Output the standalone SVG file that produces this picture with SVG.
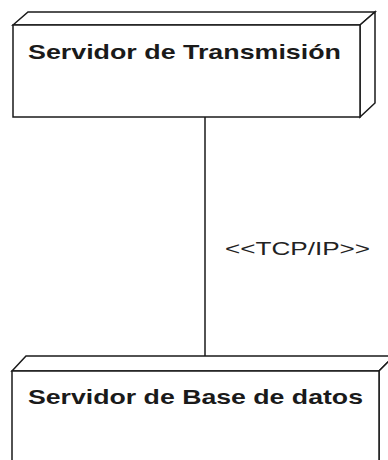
<svg xmlns="http://www.w3.org/2000/svg" width="388" height="460" viewBox="0 0 388 460">
<style>
.box{fill:#ffffff;stroke:#1a1a1a;stroke-width:1.5;stroke-linejoin:miter}
.title{font-family:"Liberation Sans",Arial,sans-serif;font-weight:bold;font-size:21px;fill:#1a1a1a}
.lbl{font-family:"Liberation Sans",Arial,sans-serif;font-size:18px;fill:#222222}
.conn{stroke:#1a1a1a;stroke-width:1.5;fill:none}
</style>
<rect width="388" height="460" fill="#ffffff"/>
<g id="connectors">
<line class="conn" x1="205" y1="117" x2="205" y2="357"/>
<text class="lbl" x="225" y="255" textLength="145" lengthAdjust="spacingAndGlyphs">&lt;&lt;TCP/IP&gt;&gt;</text>
</g>
<g id="node-transmision">
<polygon class="box" points="13,25 28,12 375,12 360,25"/>
<polygon class="box" points="360,25 375,12 375,103 360,117"/>
<rect class="box" x="13" y="25" width="347" height="92"/>
<text class="title" x="28" y="59" textLength="313" lengthAdjust="spacingAndGlyphs">Servidor de Transmisión</text>
</g>
<g id="node-basedatos">
<polygon class="box" points="12,371 26,356 394,356 379,371"/>
<polygon class="box" points="379,371 394,356 394,470 379,480"/>
<rect class="box" x="12" y="371" width="367" height="110"/>
<text class="title" x="28" y="404" textLength="335" lengthAdjust="spacingAndGlyphs">Servidor de Base de datos</text>
</g>
</svg>
